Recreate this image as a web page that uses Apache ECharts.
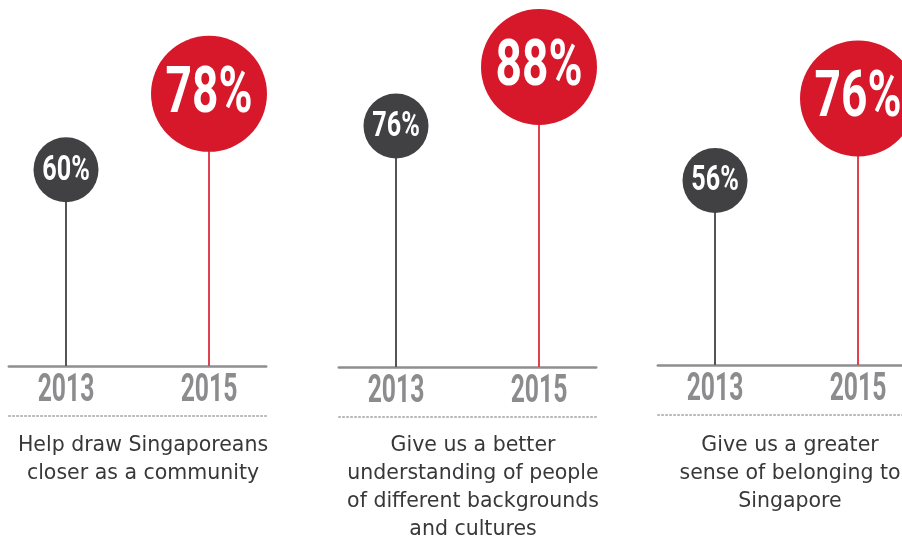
<!DOCTYPE html>
<html>
<head>
<meta charset="utf-8">
<script src="https://cdn.jsdelivr.net/npm/echarts@6.0.0/dist/echarts.min.js"></script>
<style>
  html, body { margin: 0; padding: 0; background: #fff; }
  #chart { width: 902px; height: 538px; }
</style>
</head>
<body>
<div id="chart"></div>
<script>
// survey results, 2013 vs 2015
const years = [2013, 2015];
const values1 = [60, 78];
const values2 = [76, 88];
const values3 = [56, 76];
const captions = [
  'Help draw Singaporeans\ncloser as a community',
  'Give us a better\nunderstanding of people\nof different backgrounds\nand cultures',
  'Give us a greater\nsense of belonging to\nSingapore'
];

// layout of the three panels (the circles are not on one common scale)
// 71.5px per year on the x axis
const panels = [
  { left: 8.8, top: 1, height: 365, width: 257.4, xMax: 2015.8, yMin: 13.5, center: 138 },
  { left: 338.8, top: 8, height: 359, width: 257.4, xMax: 2015.8, yMin: 27, center: 468 },
  { left: 657.8, top: 0, height: 365, width: 244.2, xMax: 2015.615, yMin: 11, center: 785 }
];
const allValues = [values1, values2, values3];

const RED = '#d7182a';
const DARK = '#414042';

const chart = echarts.init(document.getElementById('chart'));

// stem + circle + condensed label, and the year under the baseline
const renderLollipop = function (params, api) {
  const x = api.value(0);
  const v = api.value(1);
  const p = api.coord([x, v]);
  const base = params.coordSys.y + params.coordSys.height;
  const isNew = x === years[1];
  const r = isNew ? 58 : 32.5;
  return {
    type: 'group',
    children: [
      {
        type: 'line',
        shape: { x1: p[0], y1: base, x2: p[0], y2: p[1] },
        style: { stroke: isNew ? '#e0404f' : '#555557', lineWidth: 2 }
      },
      {
        type: 'circle',
        shape: { cx: p[0], cy: p[1], r: r },
        style: { fill: isNew ? RED : DARK }
      },
      {
        type: 'text',
        x: p[0],
        y: p[1] + (isNew ? 2 : 1),
        scaleX: 0.72,
        style: {
          text: v + '%',
          fill: '#fff',
          fontFamily: 'Roboto, sans-serif',
          fontWeight: 'bold',
          fontSize: isNew ? 64 : 35,
          align: 'center',
          verticalAlign: 'middle'
        }
      },
      {
        type: 'text',
        x: p[0],
        y: base + 25,
        scaleX: 0.65,
        style: {
          text: String(x),
          fill: '#8c8c8e',
          fontFamily: 'Roboto, sans-serif',
          fontWeight: 'bold',
          fontSize: 38,
          align: 'center',
          verticalAlign: 'middle'
        }
      }
    ]
  };
};

const grid = [], xAxis = [], yAxis = [], series = [], title = [];
panels.forEach((pn, i) => {
  grid.push({ left: pn.left, top: pn.top, width: pn.width, height: pn.height });
  // baseline
  xAxis.push({
    gridIndex: i,
    type: 'value',
    min: 2012.2,
    max: pn.xMax,
    axisLine: { onZero: false, lineStyle: { color: '#8e8e90', width: 2.5 } },
    axisTick: { show: false },
    splitLine: { show: false },
    axisLabel: { show: false }
  });
  // dotted separator under the years
  xAxis.push({
    gridIndex: i,
    type: 'value',
    min: 2012.2,
    max: pn.xMax,
    position: 'bottom',
    offset: 50,
    axisLine: { onZero: false, lineStyle: { color: '#a0a0a0', width: 1.5, type: [1.5, 2.5] } },
    axisTick: { show: false },
    axisLabel: { show: false },
    splitLine: { show: false }
  });
  yAxis.push({ gridIndex: i, type: 'value', min: pn.yMin, max: 100, show: false });
  series.push({
    type: 'custom',
    xAxisIndex: i * 2,
    yAxisIndex: i,
    renderItem: renderLollipop,
    data: years.map((y, k) => [y, allValues[i][k]])
  });
  title.push({
    text: captions[i],
    left: pn.center,
    top: 427,
    textAlign: 'center',
    textStyle: {
      color: '#38383a',
      fontFamily: '"DejaVu Sans", sans-serif',
      fontWeight: 'normal',
      fontSize: 20.5,
      lineHeight: 28
    }
  });
});

chart.setOption({
  animation: false,
  title: title,
  grid: grid,
  xAxis: xAxis,
  yAxis: yAxis,
  series: series
});
</script>
</body>
</html>
